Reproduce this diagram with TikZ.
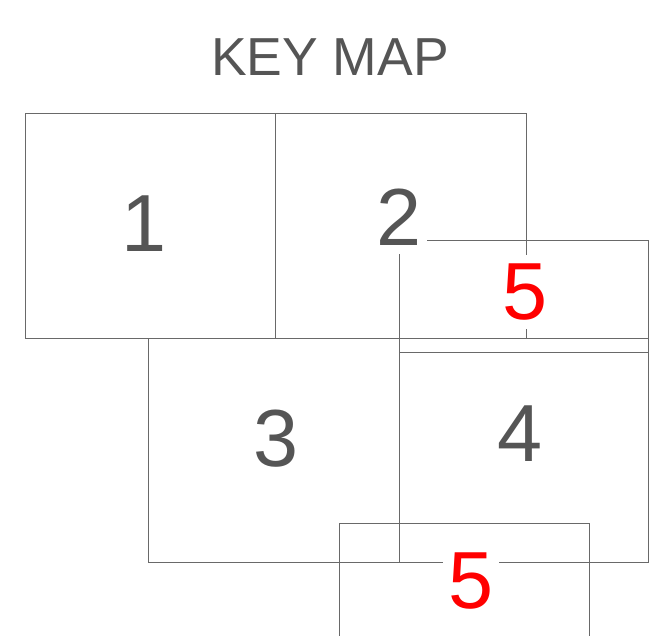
\documentclass[tikz,border=0pt]{standalone}
\usepackage{fontspec}
\setmainfont{Liberation Sans}
\definecolor{inkc}{RGB}{85,85,85}
\definecolor{edgec}{RGB}{105,105,105}
\definecolor{sheetc}{RGB}{255,0,0}

\begin{document}
\begin{tikzpicture}[x=1pt,y=-1pt,line width=0.8pt,
    sheet/.style={draw=edgec},
    num/.style={font=\fontsize{81}{81}\selectfont,text=inkc,fill=white,
      inner xsep=5pt,inner ysep=9pt}]
  \useasboundingbox (0,0) rectangle (652,635);
  \node[font=\fontsize{53.5}{53.5}\selectfont,text=inkc,anchor=base] (title) at (330,75) {KEY MAP};
  % sheets 1-4
  \draw[sheet] (25,113) rectangle (275,338);
  \draw[sheet] (275,113) rectangle (526,338);
  \draw[sheet] (148,338) rectangle (399,562);
  \draw[sheet] (399,338) rectangle (648,562);
  % sheet 5: upper strip and lower strip (runs off the page)
  \draw[sheet] (399,240) rectangle (648,352);
  \draw[sheet] (339,636) |- (589,523) -- (589,636);
  % numbers, white fill breaks the lines behind them
  \node[num] (n1) at (144,224) {1};
  \node[num] (n2) at (399,217) {2};
  \node[num] (n3) at (276,439) {3};
  \node[num] (n4) at (520,434) {4};
  \node[num,text=sheetc] (n5a) at (525,292) {5};
  \node[num,text=sheetc] (n5b) at (471,581) {5};
\end{tikzpicture}
\end{document}
